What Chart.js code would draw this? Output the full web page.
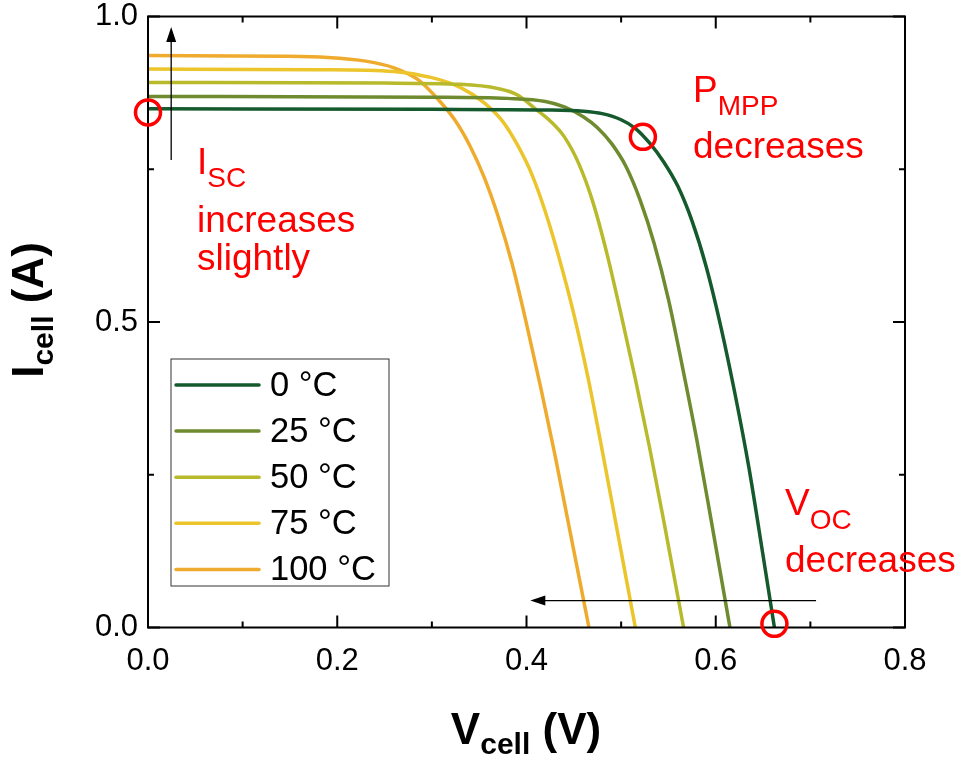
<!DOCTYPE html>
<html>
<head>
<meta charset="utf-8">
<script src="https://cdn.jsdelivr.net/npm/chart.js@4"></script>
<style>
  html, body { margin: 0; padding: 0; background: #fff; }
  #wrap { width: 961px; height: 758px; }
</style>
</head>
<body>
<div id="wrap"><canvas id="ivChart" width="961" height="758"></canvas></div>
<script>
// I-V curves of a solar cell at different temperatures
const temps = ['0 °C', '25 °C', '50 °C', '75 °C', '100 °C'];
const colors = ['#155a2c', '#6e8c2f', '#b8b92b', '#ebc52b', '#efab2d'];

const v0   = [0, 0.30, 0.42, 0.46, 0.48, 0.50, 0.515, 0.53, 0.545, 0.56, 0.575, 0.59, 0.605, 0.62, 0.635, 0.65, 0.662];
const i0   = [0.849, 0.848, 0.847, 0.845, 0.841, 0.831, 0.817, 0.793, 0.762, 0.722, 0.665, 0.590, 0.495, 0.385, 0.262, 0.118, 0];
const v25  = [0, 0.30, 0.38, 0.42, 0.44, 0.46, 0.475, 0.49, 0.505, 0.52, 0.535, 0.55, 0.565, 0.58, 0.595, 0.615];
const i25  = [0.869, 0.868, 0.866, 0.861, 0.852, 0.836, 0.818, 0.792, 0.755, 0.700, 0.628, 0.537, 0.425, 0.307, 0.177, 0];
const v50  = [0, 0.25, 0.33, 0.37, 0.39, 0.41, 0.425, 0.44, 0.455, 0.47, 0.485, 0.50, 0.515, 0.53, 0.545, 0.566];
const i50  = [0.892, 0.891, 0.889, 0.882, 0.872, 0.848, 0.829, 0.803, 0.760, 0.697, 0.612, 0.512, 0.407, 0.295, 0.175, 0];
const v75  = [0, 0.18, 0.26, 0.30, 0.33, 0.355, 0.375, 0.39, 0.405, 0.42, 0.435, 0.45, 0.465, 0.48, 0.495, 0.515];
const i75  = [0.914, 0.913, 0.910, 0.900, 0.884, 0.859, 0.828, 0.791, 0.744, 0.680, 0.602, 0.513, 0.409, 0.290, 0.166, 0];
const v100 = [0, 0.14, 0.19, 0.23, 0.26, 0.285, 0.305, 0.325, 0.34, 0.355, 0.37, 0.385, 0.40, 0.415, 0.43, 0.445, 0.466];
const i100 = [0.936, 0.935, 0.933, 0.927, 0.916, 0.897, 0.867, 0.829, 0.789, 0.738, 0.673, 0.594, 0.497, 0.393, 0.283, 0.165, 0];

const xTicks = [0, 0.2, 0.4, 0.6, 0.8];
const yTicks = [0, 0.5, 1.0];

// annotation marks (data coordinates)
const markIsc  = [0, 0.843];
const markPmpp = [0.523, 0.803];
const markVoc  = [0.662, 0.006];
const arrowIsc = [[0.0245, 0.765], [0.0245, 0.983]];
const arrowVoc = [[0.706, 0.044], [0.404, 0.044]];

const seriesV = [v0, v25, v50, v75, v100];
const seriesI = [i0, i25, i50, i75, i100];

const datasets = temps.map((t, k) => ({
    label: t,
    data: seriesV[k].map((v, j) => ({x: v, y: seriesI[k][j]})),
    borderColor: colors[k],
    backgroundColor: colors[k],
    borderWidth: 3.5,
    pointRadius: 0,
    cubicInterpolationMode: 'monotone',
    fill: false
}));

const FONT = '"Liberation Sans", Arial, sans-serif';

function isMajor(v, list) {
    return list.some(m => Math.abs(m - v) < 1e-6);
}

// text with a subscript part, e.g. I + "SC"
function subText(ctx, x, y, main, sub, rest, size, subSize, bold, drop) {
    const w = bold ? 'bold ' : '';
    ctx.font = w + size + 'px ' + FONT;
    ctx.fillText(main, x, y);
    let cx = x + ctx.measureText(main).width;
    ctx.font = w + subSize + 'px ' + FONT;
    ctx.fillText(sub, cx, y + drop);
    cx += ctx.measureText(sub).width;
    if (rest) {
        ctx.font = w + size + 'px ' + FONT;
        ctx.fillText(rest, cx, y);
    }
}

function subWidth(ctx, main, sub, rest, size, subSize, bold) {
    const w = bold ? 'bold ' : '';
    ctx.font = w + size + 'px ' + FONT;
    let total = ctx.measureText(main).width + ctx.measureText(rest).width;
    ctx.font = w + subSize + 'px ' + FONT;
    return total + ctx.measureText(sub).width;
}

const decorations = {
    id: 'decorations',
    afterDraw(chart) {
        const ctx = chart.ctx;
        const ca = chart.chartArea;
        const sx = chart.scales.x, sy = chart.scales.y;
        ctx.save();

        // frame
        ctx.strokeStyle = '#000';
        ctx.lineWidth = 2;
        ctx.strokeRect(ca.left, ca.top, ca.right - ca.left, ca.bottom - ca.top);

        // inward ticks, major and minor, on all four sides
        sx.ticks.forEach(t => {
            const px = sx.getPixelForValue(t.value);
            const len = isMajor(t.value, xTicks) ? 12 : 6;
            ctx.beginPath();
            ctx.moveTo(px, ca.bottom); ctx.lineTo(px, ca.bottom - len);
            ctx.moveTo(px, ca.top); ctx.lineTo(px, ca.top + len);
            ctx.stroke();
        });
        sy.ticks.forEach(t => {
            const py = sy.getPixelForValue(t.value);
            const len = isMajor(t.value, yTicks) ? 12 : 6;
            ctx.beginPath();
            ctx.moveTo(ca.left, py); ctx.lineTo(ca.left + len, py);
            ctx.moveTo(ca.right, py); ctx.lineTo(ca.right - len, py);
            ctx.stroke();
        });

        // axis titles
        ctx.fillStyle = '#000';
        ctx.textBaseline = 'alphabetic';
        ctx.textAlign = 'left';
        let w = subWidth(ctx, 'V', 'cell', ' (V)', 44, 30, true);
        subText(ctx, 526 - w / 2, 744, 'V', 'cell', ' (V)', 44, 30, true, 10);
        ctx.save();
        ctx.translate(43, 310);
        ctx.rotate(-Math.PI / 2);
        w = subWidth(ctx, 'I', 'cell', ' (A)', 44, 30, true);
        subText(ctx, -w / 2, 0, 'I', 'cell', ' (A)', 44, 30, true, 10);
        ctx.restore();

        // legend box
        const lx = 171, ly = 359, lw = 218, lh = 227;
        ctx.lineWidth = 1;
        ctx.strokeStyle = '#333';
        ctx.strokeRect(lx, ly, lw, lh);
        ctx.font = '34.5px ' + FONT;
        ctx.textBaseline = 'middle';
        chart.data.datasets.forEach((ds, k) => {
            const yy = 385 + k * 46.1;
            ctx.strokeStyle = ds.borderColor;
            ctx.lineWidth = 3.5;
            ctx.lineCap = 'round';
            ctx.beginPath();
            ctx.moveTo(176, yy); ctx.lineTo(259, yy);
            ctx.stroke();
            ctx.fillStyle = '#000';
            ctx.fillText(ds.label, 270, yy + 1);
        });
        ctx.lineCap = 'butt';

        // arrows
        function arrow(a, b) {
            const x1 = sx.getPixelForValue(a[0]), y1 = sy.getPixelForValue(a[1]);
            const x2 = sx.getPixelForValue(b[0]), y2 = sy.getPixelForValue(b[1]);
            const ang = Math.atan2(y2 - y1, x2 - x1);
            const hl = 15, hw = 5;
            ctx.strokeStyle = '#000';
            ctx.fillStyle = '#000';
            ctx.lineWidth = 1.3;
            ctx.beginPath();
            ctx.moveTo(x1, y1);
            ctx.lineTo(x2 - Math.cos(ang) * hl * 0.8, y2 - Math.sin(ang) * hl * 0.8);
            ctx.stroke();
            ctx.beginPath();
            ctx.moveTo(x2, y2);
            ctx.lineTo(x2 - Math.cos(ang) * hl - Math.sin(ang) * hw, y2 - Math.sin(ang) * hl + Math.cos(ang) * hw);
            ctx.lineTo(x2 - Math.cos(ang) * hl + Math.sin(ang) * hw, y2 - Math.sin(ang) * hl - Math.cos(ang) * hw);
            ctx.closePath();
            ctx.fill();
        }
        arrow(arrowIsc[0], arrowIsc[1]);
        arrow(arrowVoc[0], arrowVoc[1]);

        // red circles
        ctx.strokeStyle = '#ff0000';
        ctx.lineWidth = 3.5;
        [markIsc, markPmpp, markVoc].forEach(m => {
            ctx.beginPath();
            ctx.arc(sx.getPixelForValue(m[0]), sy.getPixelForValue(m[1]), 12.5, 0, Math.PI * 2);
            ctx.stroke();
        });

        // red notes
        ctx.fillStyle = '#ff0000';
        ctx.textBaseline = 'alphabetic';
        subText(ctx, 197, 174, 'I', 'SC', '', 37, 28, false, 13);
        ctx.font = '37px ' + FONT;
        ctx.fillText('increases', 197, 232);
        ctx.fillText('slightly', 197, 270);

        subText(ctx, 693, 102, 'P', 'MPP', '', 37, 28, false, 13);
        ctx.font = '37px ' + FONT;
        ctx.fillText('decreases', 693, 158);

        subText(ctx, 785, 515, 'V', 'OC', '', 37, 28, false, 14);
        ctx.font = '37px ' + FONT;
        ctx.fillText('decreases', 785, 572);

        ctx.restore();
    }
};

new Chart(document.getElementById('ivChart'), {
    type: 'line',
    data: { datasets: datasets },
    options: {
        responsive: false,
        animation: false,
        devicePixelRatio: 1,
        layout: { padding: { top: 16.5, right: 56, left: 0, bottom: 0 } },
        plugins: {
            legend: { display: false },
            tooltip: { enabled: false }
        },
        scales: {
            x: {
                type: 'linear',
                min: 0,
                max: 0.8,
                grid: { display: false, drawTicks: false },
                border: { display: false },
                ticks: {
                    stepSize: 0.1,
                    padding: 18,
                    color: '#000',
                    font: { family: FONT, size: 31, lineHeight: 1 },
                    maxRotation: 0,
                    autoSkip: false,
                    callback: v => isMajor(v, xTicks) ? v.toFixed(1) : ''
                },
                afterFit: s => { s.height = 130.5; s.paddingLeft = 0; s.paddingRight = 0; }
            },
            y: {
                type: 'linear',
                min: 0,
                max: 1,
                grid: { display: false, drawTicks: false },
                border: { display: false },
                ticks: {
                    stepSize: 0.25,
                    padding: 10,
                    color: '#000',
                    font: { family: FONT, size: 31, lineHeight: 1 },
                    autoSkip: false,
                    callback: v => isMajor(v, yTicks) ? v.toFixed(1) : ''
                },
                afterFit: s => { s.width = 148; s.paddingTop = 0; s.paddingBottom = 0; }
            }
        }
    },
    plugins: [decorations]
});
</script>
</body>
</html>
